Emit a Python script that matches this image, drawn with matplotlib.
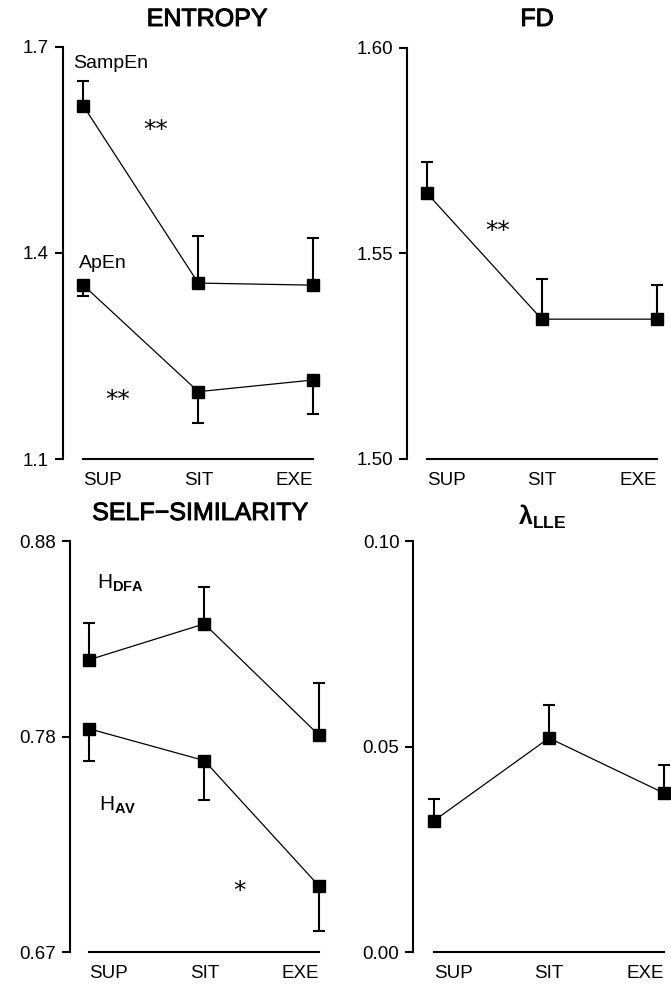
import matplotlib
matplotlib.use('Agg')
import matplotlib.pyplot as plt
import matplotlib.patheffects as pe

plt.rcParams['font.family'] = ['Liberation Sans', 'DejaVu Sans']
plt.rcParams['mathtext.fontset'] = 'custom'
plt.rcParams['mathtext.rm'] = 'Liberation Sans'
plt.rcParams['mathtext.bf'] = 'Liberation Sans:bold'
plt.rcParams['mathtext.it'] = 'Liberation Sans:italic'

# conditions
conditions = ['SUP', 'SIT', 'EXE']

# ENTROPY (mean, SD drawn one way)
sampen_mean = [1.614, 1.356, 1.353]
sampen_sd = [0.036, 0.069, 0.068]
apen_mean = [1.353, 1.198, 1.215]
apen_sd = [0.016, 0.046, 0.050]

# FD
fd_mean = [1.5647, 1.534, 1.534]
fd_sd = [0.0074, 0.0097, 0.0083]

# SELF-SIMILARITY
hdfa_mean = [0.8194, 0.8377, 0.7807]
hdfa_sd = [0.0187, 0.0187, 0.0268]
hav_mean = [0.7841, 0.7679, 0.7037]
hav_sd = [0.0165, 0.0200, 0.0226]

# LLE
lle_mean = [0.0320, 0.0521, 0.0387]
lle_sd = [0.0052, 0.0080, 0.0068]

W, H = 671, 988
fig = plt.figure(figsize=(W / 100, H / 100), dpi=100)
UNIT = 115.0  # px per category step
thick = [pe.withStroke(linewidth=0.7, foreground='black')]


def make_ax(spine_x, sup_x, top_y, bot_y, ylim, yticks, yfmt):
    lo = -(sup_x - spine_x) / UNIT
    hi = 2.25
    ax = fig.add_axes([spine_x / W, 1 - bot_y / H, (hi - lo) * UNIT / W, (bot_y - top_y) / H])
    ax.set_xlim(lo, hi)
    ax.set_ylim(*ylim)
    ax.patch.set_visible(False)
    for s in ['top', 'right']:
        ax.spines[s].set_visible(False)
    ax.spines['left'].set_linewidth(1.5)
    ax.spines['bottom'].set_linewidth(1.5)
    ax.spines['bottom'].set_bounds(0, 2)
    ax.set_yticks(yticks)
    ax.set_yticklabels([yfmt % t for t in yticks])
    ax.tick_params(axis='y', length=6, width=1.5, pad=4, labelsize=13.5)
    ax.set_xticks([0, 1, 2])
    ax.set_xticklabels(conditions)
    ax.tick_params(axis='x', length=0, pad=9, labelsize=13.5)
    for lab, ha in zip(ax.get_xticklabels(), ['left', 'center', 'right']):
        lab.set_ha(ha)
    return ax


def series(ax, mean, sd, up=True):
    x = [0, 1, 2]
    zeros = [0] * len(sd)
    err = [zeros, sd] if up else [sd, zeros]
    ax.errorbar(x, mean, yerr=err, fmt='none', ecolor='black', elinewidth=1.5,
                capsize=4.5, capthick=1.5, zorder=2)
    ax.plot(x, mean, color='black', linewidth=0.9, marker='s', markersize=8.6,
            markerfacecolor='black', markeredgecolor='black', zorder=3, clip_on=False)


def ftext(x, y, s, **kw):
    return fig.text(x / W, 1 - y / H, s, **kw)


def title(x, y, s):
    ftext(x, y, s, ha='center', va='center', fontsize=18, path_effects=thick)


def stars(x, y, s):
    ftext(x, y, s, ha='center', va='center', fontsize=18, family='DejaVu Sans')


# ENTROPY
ax1 = make_ax(62.7, 83.3, 46.7, 459, (1.1, 1.7), [1.1, 1.4, 1.7], '%.1f')
series(ax1, sampen_mean, sampen_sd, up=True)
series(ax1, apen_mean, apen_sd, up=False)
title(207, 19, 'ENTROPY')
ftext(73, 63, 'SampEn', ha='left', va='center', fontsize=14)
ftext(79, 263, 'ApEn', ha='left', va='center', fontsize=14)
stars(156, 130, '**')
stars(118, 400, '**')

# FD
ax2 = make_ax(406.7, 426.7, 47.7, 459, (1.50, 1.60), [1.50, 1.55, 1.60], '%.2f')
series(ax2, fd_mean, fd_sd, up=True)
title(537, 19, 'FD')
stars(498, 231, '**')

# SELF-SIMILARITY
ax3 = make_ax(70, 89.3, 541, 952.3, (0.67, 0.88), [0.67, 0.78, 0.88], '%.2f')
series(ax3, hdfa_mean, hdfa_sd, up=True)
series(ax3, hav_mean, hav_sd, up=False)
title(200, 513, 'SELF\u2212SIMILARITY')
ftext(97, 583, r'$\mathrm{H}_{\mathbf{DFA}}$', ha='left', va='center', fontsize=15)
ftext(99, 805, r'$\mathrm{H}_{\mathbf{AV}}$', ha='left', va='center', fontsize=15)
stars(240, 891, '*')

# LLE
ax4 = make_ax(413.3, 434, 541, 952.3, (0.0, 0.10), [0.0, 0.05, 0.10], '%.2f')
series(ax4, lle_mean, lle_sd, up=True)
ftext(542, 517, r'$\mathbf{\lambda}_{\mathbf{LLE}}$', ha='center', va='center', fontsize=18)

fig.savefig('out.png', dpi=100)
